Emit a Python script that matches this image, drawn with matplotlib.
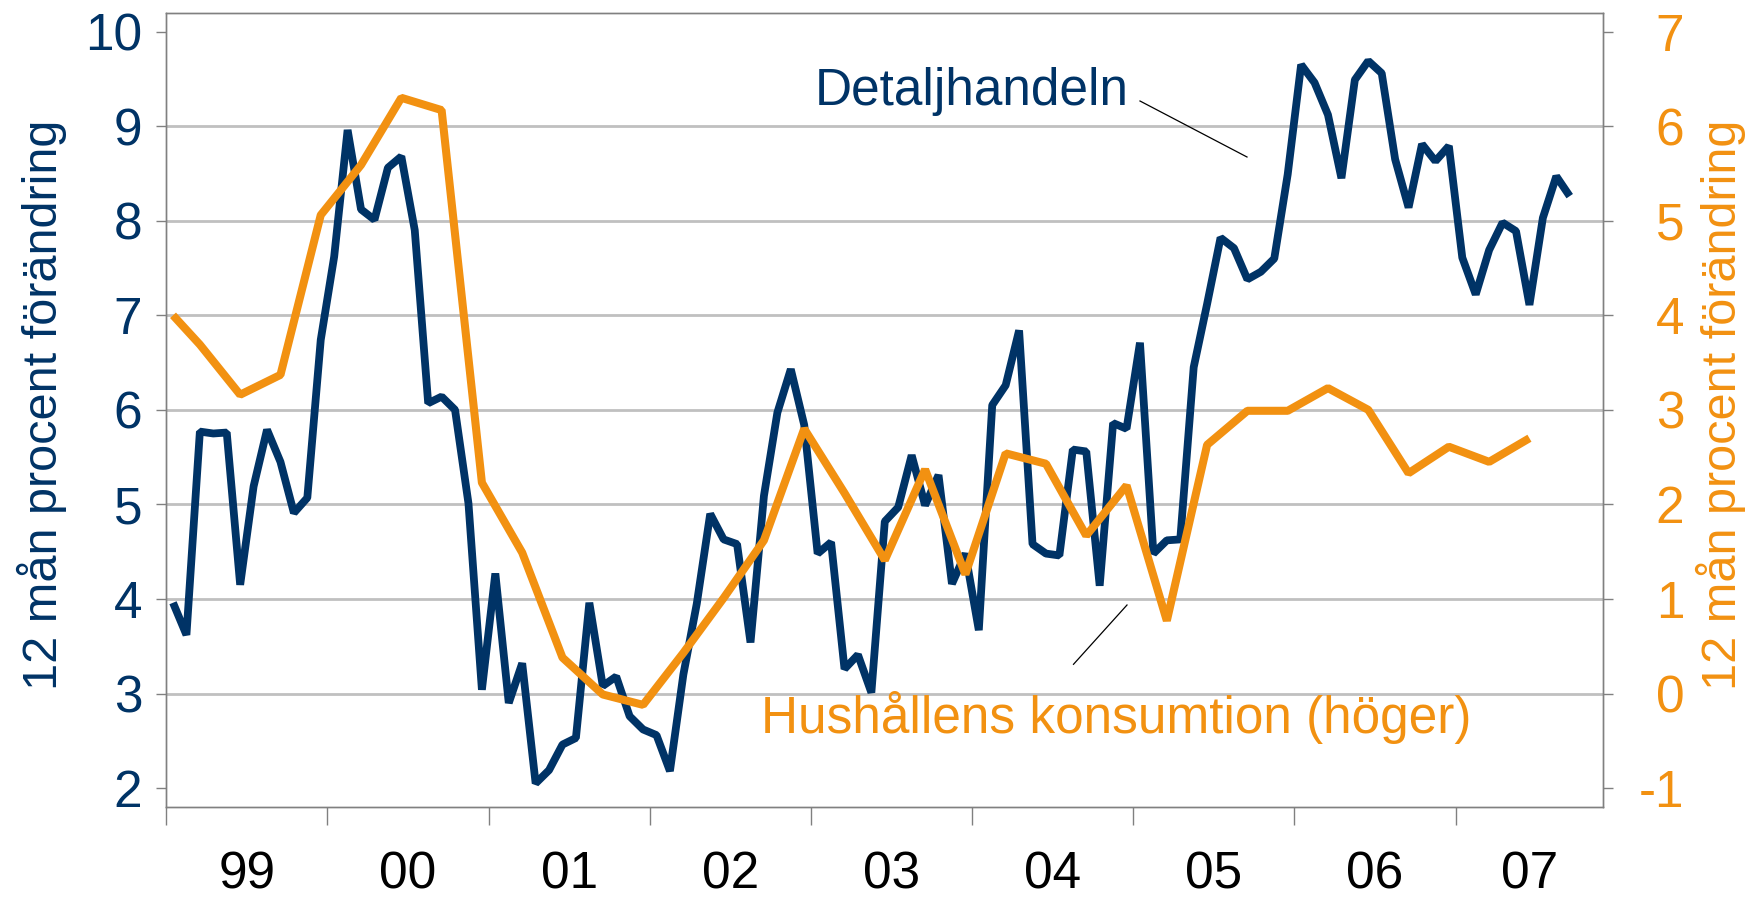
import matplotlib
matplotlib.use("Agg")
import matplotlib.pyplot as plt
import numpy as np
import pandas as pd
from matplotlib.lines import Line2D

plt.rcParams['font.family'] = ['Liberation Sans', 'DejaVu Sans']

NAVY = "#003366"
ORANGE = "#F29111"
GRID = "#C0C0C0"
SPINE = "#808080"

# ---- data ----
months = pd.period_range("1999-01", "2007-11", freq="M")   # category axis
year_labels = ["99", "00", "01", "02", "03", "04", "05", "06", "07"]

# Detaljhandeln, 12 mån procentuell förändring, monthly from 1999-01
detaljhandeln = [
    3.96, 3.62, 5.77, 5.75, 5.76, 4.15, 5.19, 5.79, 5.45, 4.91, 5.07, 6.74,
    7.62, 8.96, 8.12, 8.01, 8.56, 8.68, 7.90, 6.07, 6.14, 6.00, 5.01, 3.04,
    4.27, 2.90, 3.32, 2.05, 2.19, 2.46, 2.53, 3.96, 3.08, 3.18, 2.76, 2.62,
    2.56, 2.18, 3.20, 3.95, 4.90, 4.63, 4.58, 3.54, 5.09, 5.97, 6.43, 5.84,
    4.48, 4.60, 3.26, 3.41, 3.01, 4.82, 4.97, 5.52, 4.99, 5.31, 4.16, 4.48,
    3.67, 6.05, 6.26, 6.84, 4.58, 4.48, 4.46, 5.58, 5.56, 4.14, 5.86, 5.80,
    6.71, 4.48, 4.62, 4.63, 6.45, 7.12, 7.82, 7.71, 7.38, 7.46, 7.60, 8.49,
    9.65, 9.46, 9.12, 8.45, 9.49, 9.69, 9.56, 8.65, 8.14, 8.81, 8.63, 8.79,
    7.61, 7.22, 7.69, 7.98, 7.89, 7.11, 8.03, 8.47, 8.26,
]

# Hushållens konsumtion (höger axel): first value 1999-01, then quarterly 1999Q1-2007Q2
konsum_first_month = "1999-01"
konsum_quarters = pd.period_range("1999Q1", "2007Q2", freq="Q")
konsumtion = [
    4.00,
    3.69, 3.16, 3.37, 5.06,
    5.59, 6.30, 6.17, 2.23,
    1.49, 0.38, -0.01, -0.12,
    0.43, 1.01, 1.62, 2.80,
    2.12, 1.41, 2.37, 1.26,
    2.54, 2.43, 1.67, 2.20,
    0.77, 2.63, 2.99, 2.99,
    3.23, 3.00, 2.33, 2.61,
    2.45, 2.70,
]

left_ticks = list(range(2, 11))
right_ticks = list(range(-1, 8))
grid_levels = list(range(3, 10))

# ---- positions on the category axis ----
cat = np.arange(len(months))
detalj_x = cat[:len(detaljhandeln)]
konsum_periods = [pd.Period(konsum_first_month, "M")] + \
                 [q.asfreq("M", how="end") for q in konsum_quarters]
konsum_x = [months.get_loc(p) for p in konsum_periods]

years = sorted(set(m.year for m in months))
year_bounds = [months.get_loc(pd.Period(f"{y}-01", "M")) - 0.5 for y in years]
year_centers = []
for y in years:
    idx = [i for i, m in enumerate(months) if m.year == y]
    year_centers.append((idx[0] + idx[-1]) / 2)

# ---- figure ----
fig = plt.figure(figsize=(17.53, 8.99), dpi=100)
ax = fig.add_axes([166.3 / 1753, 1 - 807 / 899, (1603.3 - 166.3) / 1753, (807 - 12.7) / 899])
ax2 = ax.twinx()

for lv in grid_levels:
    ax.axhline(lv, color=GRID, lw=2.0, zorder=0)

ax.plot(detalj_x, detaljhandeln, color=NAVY, lw=5.6, solid_joinstyle="bevel",
        solid_capstyle="butt", zorder=3)
ax2.plot(konsum_x, konsumtion, color=ORANGE, lw=5.8, solid_joinstyle="bevel",
         solid_capstyle="butt", zorder=3)

ax.set_xlim(-0.5, len(months) - 0.5)
ax.set_ylim(1.8, 10.2)
ax2.set_ylim(-1.2, 7.2)

ax.set_yticks(left_ticks)
ax.set_yticklabels([str(t) for t in left_ticks])
ax2.set_yticks(right_ticks)
ax2.set_yticklabels([str(t) for t in right_ticks])

ax.tick_params(axis="y", direction="out", length=7.2, width=1.0, color=SPINE,
               labelsize=37, labelcolor=NAVY, pad=10)
ax2.tick_params(axis="y", direction="out", length=7.2, width=1.0, color=SPINE,
                labelsize=37, labelcolor=ORANGE, pad=51)
for lab in ax2.get_yticklabels():
    lab.set_horizontalalignment("right")

ax.set_xticks(year_bounds)
ax.set_xticklabels([""] * len(year_bounds))
ax.set_xticks(year_centers, minor=True)
ax.set_xticklabels(year_labels, minor=True)
ax.tick_params(axis="x", which="major", direction="out", length=13, width=1.0, color=SPINE)
ax.tick_params(axis="x", which="minor", length=0, labelsize=37, labelcolor="black", pad=31)

for a in (ax, ax2):
    for s in a.spines.values():
        s.set_color(SPINE)
        s.set_linewidth(1.0)

# axis titles
fig.text(41.5 / 1753, 1 - 404.5 / 899, "12 mån procent förändring", rotation=90,
         ha="center", va="center", fontsize=35, color=NAVY)
fig.text(1721 / 1753, 1 - 404.5 / 899, "12 mån procent förändring", rotation=90,
         ha="center", va="center", fontsize=35, color=ORANGE)

# series labels with leader lines
fig.text(815 / 1753, 1 - 105 / 899, "Detaljhandeln", ha="left", va="baseline",
         fontsize=37, color=NAVY)
fig.add_artist(Line2D([1140 / 1753, 1247 / 1753], [1 - 101 / 899, 1 - 157 / 899],
                      color="black", lw=0.9, transform=fig.transFigure))
fig.text(761 / 1753, 1 - 733.3 / 899, "Hushållens konsumtion (höger)", ha="left",
         va="baseline", fontsize=37, color=ORANGE)
fig.add_artist(Line2D([1127 / 1753, 1073.5 / 1753], [1 - 605 / 899, 1 - 664.3 / 899],
                      color="black", lw=0.9, transform=fig.transFigure))

fig.savefig("out.png", dpi=100)
